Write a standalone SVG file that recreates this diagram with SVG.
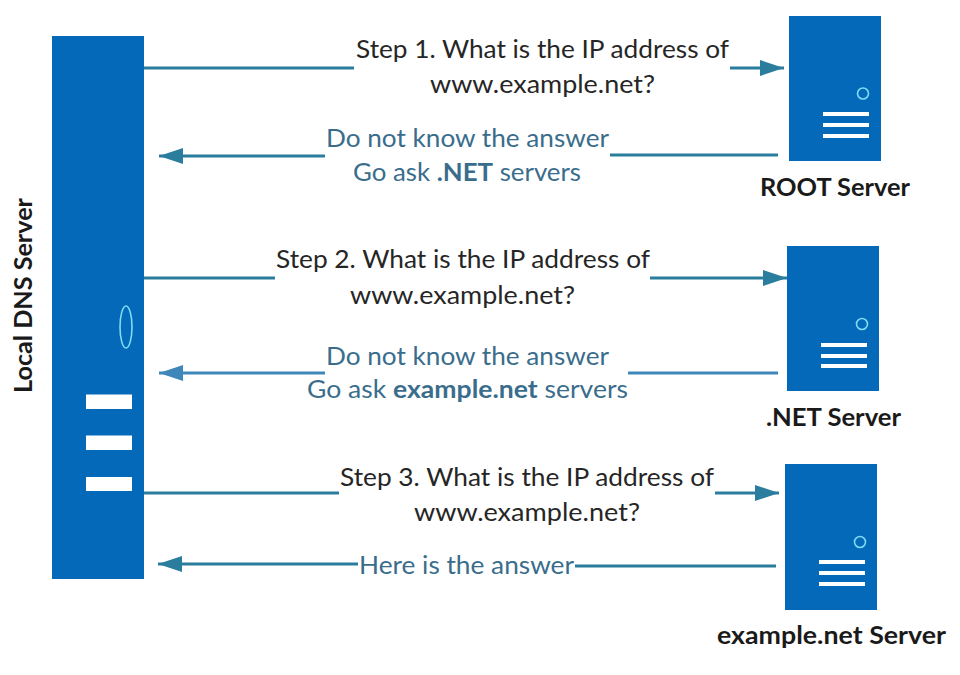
<svg xmlns="http://www.w3.org/2000/svg" width="960" height="675" viewBox="0 0 960 675">
<style>
.srv{fill:#0369b8}
.bar{fill:#fff}
.led{fill:none;stroke:#7fdcf5;stroke-width:1.6}
text{font-family:Lato,"Open Sans",sans-serif;font-size:25px}
.k{fill:#262626}
.b{fill:#3a6d8c}
.n{font-weight:700;fill:#1a1a1a;font-size:25px}
.d{fill:none;stroke:#2a7d9c;stroke-width:3}
.u{fill:none;stroke:#3f87ba;stroke-width:3}
tspan.s{font-weight:700}
</style>
<defs>
<marker id="a" markerUnits="userSpaceOnUse" markerWidth="26" markerHeight="18" refX="24" refY="8" orient="auto"><path d="M0 0L24 8L0 16Z" fill="#2a7d9c"/></marker>
<marker id="c" markerUnits="userSpaceOnUse" markerWidth="26" markerHeight="18" refX="24" refY="8" orient="auto"><path d="M0 0L24 8L0 16Z" fill="#3f87ba"/></marker>
</defs>
<rect width="960" height="675" fill="#fff"/>
<g id="connectors">
<path class="d" d="M144 68H354"/>
<path class="d" marker-end="url(#a)" d="M730 68H784"/>
<path class="d" d="M778 155H610"/>
<path class="d" marker-end="url(#a)" d="M325 156H159"/>
<path class="d" d="M144 278H275"/>
<path class="d" marker-end="url(#a)" d="M650 278H787"/>
<path class="u" d="M778 373H628"/>
<path class="u" marker-end="url(#c)" d="M325 373H159"/>
<path class="d" d="M144 493H339"/>
<path class="d" marker-end="url(#a)" d="M715 493H779"/>
<path class="d" marker-end="url(#a)" d="M358 564H158"/>
<path class="d" d="M575 566H776"/>
</g>
<g id="local-dns">
<rect class="srv" x="52" y="36" width="92" height="543"/>
<ellipse class="led" cx="126" cy="327" rx="6" ry="21"/>
<rect class="bar" x="86" y="394.500" width="46" height="14.500"/>
<rect class="bar" x="86" y="435.500" width="46" height="14.500"/>
<rect class="bar" x="86" y="477" width="46" height="14"/>
<text class="n" transform="translate(32 393) rotate(-90)" textLength="195" lengthAdjust="spacingAndGlyphs">Local DNS Server</text>
</g>
<g id="root-server">
<rect class="srv" x="789" y="16" width="92" height="145"/>
<circle class="led" cx="863" cy="93.500" r="5.500"/>
<rect class="bar" x="823" y="112" width="46" height="4"/>
<rect class="bar" x="823" y="123" width="46" height="4"/>
<rect class="bar" x="823" y="134" width="46" height="4"/>
<text class="n" x="760" y="196" textLength="150" lengthAdjust="spacingAndGlyphs">ROOT Server</text>
</g>
<g id="net-server">
<rect class="srv" x="787" y="246" width="92" height="145"/>
<circle class="led" cx="862" cy="324" r="5.500"/>
<rect class="bar" x="821" y="343" width="46" height="4"/>
<rect class="bar" x="821" y="354" width="46" height="4"/>
<rect class="bar" x="821" y="364" width="46" height="4"/>
<text class="n" x="766" y="426" textLength="135" lengthAdjust="spacingAndGlyphs">.NET Server</text>
</g>
<g id="example-server">
<rect class="srv" x="785" y="464" width="92" height="146"/>
<circle class="led" cx="860" cy="542" r="5.500"/>
<rect class="bar" x="819" y="560" width="46" height="4"/>
<rect class="bar" x="819" y="571" width="46" height="4"/>
<rect class="bar" x="819" y="582" width="46" height="4"/>
<text class="n" x="717" y="644" textLength="229" lengthAdjust="spacingAndGlyphs">example.net Server</text>
</g>
<g id="labels">
<text class="k" x="356" y="58" textLength="373" lengthAdjust="spacingAndGlyphs">Step 1. What is the IP address of</text>
<text class="k" x="430" y="93" textLength="225" lengthAdjust="spacingAndGlyphs">www.example.net?</text>
<text class="b" x="326" y="147" textLength="283" lengthAdjust="spacingAndGlyphs">Do not know the answer</text>
<text class="b" x="353" y="181" textLength="228" lengthAdjust="spacingAndGlyphs">Go ask <tspan class="s">.NET</tspan> servers</text>
<text class="k" x="276" y="268" textLength="374" lengthAdjust="spacingAndGlyphs">Step 2. What is the IP address of</text>
<text class="k" x="350" y="304" textLength="225" lengthAdjust="spacingAndGlyphs">www.example.net?</text>
<text class="b" x="326" y="365" textLength="283" lengthAdjust="spacingAndGlyphs">Do not know the answer</text>
<text class="b" x="307" y="398" textLength="321" lengthAdjust="spacingAndGlyphs">Go ask <tspan class="s">example.net</tspan> servers</text>
<text class="k" x="340" y="486" textLength="374" lengthAdjust="spacingAndGlyphs">Step 3. What is the IP address of</text>
<text class="k" x="414" y="521" textLength="226" lengthAdjust="spacingAndGlyphs">www.example.net?</text>
<text class="b" x="359" y="574" textLength="215" lengthAdjust="spacingAndGlyphs">Here is the answer</text>
</g>
</svg>
